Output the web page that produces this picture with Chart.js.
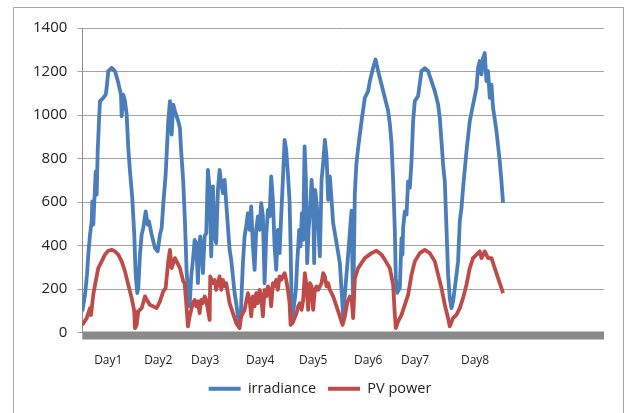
<!DOCTYPE html>
<html>
<head>
<meta charset="utf-8">
<script src="https://cdn.jsdelivr.net/npm/chart.js@4.4.0/dist/chart.umd.min.js"></script>
<style>
  html, body { margin: 0; padding: 0; background: #fff; }
  #wrap { position: relative; width: 626px; height: 413px; overflow: hidden; }
  #frame { position: absolute; left: 13px; top: 7px; width: 609px; height: 420px; border: 1px solid #a6a6a6; }
  #chart { position: absolute; left: 0; top: 0; }
</style>
</head>
<body>
<div id="wrap">
  <div id="frame"></div>
  <canvas id="chart" width="626" height="413"></canvas>
</div>
<script>
// sample positions along the time axis (0..522) and the readings at each one
const irradianceX = [0, 2.7, 4.7, 6, 7.7, 9.4, 10, 11, 13.4, 14.4, 15.4, 16.7, 17.7, 21, 23.4, 24.4, 26, 29.4, 32.7, 36,
  38.7, 39.4, 41, 42.7, 44.4, 46, 47.7, 50, 52, 53.4, 55, 56, 57.7, 59.4, 61, 63.4, 65.4, 66.7, 69.4, 72.7,
  75.4, 77.7, 79.4, 81, 83.4, 86, 87.7, 89.4, 91, 92.7, 96, 97.7, 98.7, 101, 102.7, 104.4, 106, 107.4, 109, 110.7,
  112.4, 114, 115.7, 116.7, 118, 119, 120.7, 122.4, 124, 125.7, 127.4, 129, 130.7, 132.4, 134, 135.7, 137.4, 139, 140.7, 142.4,
  144, 145.7, 147.4, 149, 150.7, 152.4, 154, 155.7, 157.2, 158.7, 159.7, 160.7, 162.4, 164, 165.7, 167.4, 169, 170.7, 172.4, 174,
  175.7, 177.4, 179, 180.7, 182.4, 184, 185.7, 187.4, 189, 190.7, 192.4, 194, 195.7, 197.4, 199, 200.7, 202.4, 204, 205.7, 207.4,
  208.4, 209.4, 210.4, 211.7, 213.7, 215, 217, 218.4, 219.7, 221, 222.4, 223.7, 225, 226.4, 227.7, 229.4, 231, 232, 233, 234.4,
  236, 237.7, 239.4, 241, 242.7, 244.4, 246, 247.7, 249.4, 251, 254.4, 257.7, 259.4, 261, 262.7, 266, 269.4, 271, 272.7, 274.2,
  276, 279.4, 282.7, 286, 287.7, 291, 293.4, 296, 299.4, 302.7, 306, 307.7, 309.4, 311, 312.7, 313.7, 315, 317.7, 319.4, 320.4,
  321, 322.7, 324.4, 326, 327.7, 329.4, 331, 332.7, 336, 339.4, 342.7, 346, 349.4, 352.7, 356, 357.7, 359.4, 361, 362.7, 364.4,
  366, 367.7, 369.4, 371, 372.7, 374.4, 376, 377.7, 379.4, 381, 384.4, 387.7, 391, 394.4, 396, 397.7, 399.4, 401, 402.7, 404.4,
  406, 407.7, 409.4, 411, 414.4, 417.7, 419.4, 421];
const irradiance = [97, 173, 266, 358, 450, 511, 603, 496, 741, 634, 834, 972, 1064, 1079, 1094, 1125, 1202, 1217, 1202, 1148,
  1094, 995, 1094, 1064, 1002, 849, 741, 619, 450, 266, 181, 204, 358, 450, 480, 557, 496, 511, 450, 388,
  373, 450, 480, 588, 726, 972, 1064, 910, 1048, 1018, 972, 940, 849, 695, 511, 280, 165, 120, 258, 334,
  426, 411, 227, 380, 442, 380, 273, 442, 457, 748, 656, 350, 672, 442, 411, 656, 748, 687, 641, 702,
  595, 488, 380, 334, 258, 181, 135, 74, 48, 100, 212, 319, 442, 488, 549, 472, 580, 396, 288, 472,
  534, 472, 595, 534, 227, 442, 564, 534, 718, 610, 396, 288, 472, 365, 534, 702, 886, 840, 733, 600,
  400, 150, 74, 120, 196, 319, 472, 396, 549, 426, 856, 702, 319, 472, 549, 702, 595, 319, 656, 595,
  503, 350, 702, 779, 886, 810, 610, 718, 610, 503, 411, 319, 196, 74, 173, 358, 560, 100, 640, 772,
  849, 972, 1079, 1110, 1156, 1217, 1255, 1202, 1140, 1079, 1020, 960, 870, 700, 470, 250, 182, 204, 434, 358,
  480, 557, 542, 695, 665, 787, 972, 1064, 1087, 1202, 1215, 1202, 1156, 1110, 1048, 987, 880, 772, 695, 480,
  266, 158, 112, 143, 204, 266, 327, 511, 573, 665, 834, 972, 1048, 1125, 1217, 1248, 1187, 1263, 1285, 1156,
  1202, 1079, 1140, 1033, 926, 787, 695, 596];

const pvPowerX = [0, 4.4, 7.7, 8.7, 11, 13.4, 16, 19.4, 22.7, 26, 29.4, 32.7, 36, 39.4, 42.7, 46, 49.4, 52, 52.7, 54.4,
  56, 59.4, 62.7, 65.4, 67.7, 71, 74.4, 77.7, 81, 83.4, 86, 87.7, 89.4, 92.7, 96, 97.7, 99.4, 101, 102.4, 104,
  105.7, 107.4, 109, 110.7, 112.4, 114, 115.7, 117.4, 119, 120.7, 122.4, 124, 125.7, 127.4, 128, 130.7, 132.4, 134, 135.7, 137.4,
  139, 140.7, 142.4, 144, 145.7, 147.4, 150.7, 154, 157.4, 159, 162.4, 165.7, 167.4, 169, 170.7, 172.4, 174, 175.7, 177.4, 179,
  180.7, 182.4, 184, 185.7, 187.4, 189, 190.7, 192.4, 194, 195.7, 197.4, 199, 200.7, 202.4, 204, 205.7, 207.4, 208.4, 210.4, 214.4,
  216, 217.7, 219.4, 221, 222.7, 224.4, 226, 227.7, 229.4, 231, 232.7, 234.4, 236, 237.7, 239.4, 241, 242.7, 244.4, 246, 247.7,
  251, 254.4, 257.7, 260.4, 262.7, 265, 267.7, 269.4, 271, 272.7, 276, 282.7, 289.4, 294.4, 299.4, 302.7, 307.7, 311, 312.7, 313.7,
  316, 319.4, 322.7, 326, 329.4, 332.7, 337.7, 342.7, 347.7, 352.7, 356, 359.4, 362.7, 366, 367.7, 371, 374.4, 377.7, 381, 384.4,
  387.7, 391, 394.4, 397.7, 399.4, 402.7, 406, 409.4, 412.7, 416, 419.4, 421];
const pvPower = [35, 66, 112, 80, 174, 235, 296, 327, 358, 376, 380, 373, 358, 327, 281, 220, 158, 97, 20, 35,
  97, 112, 166, 143, 127, 120, 112, 143, 189, 204, 327, 380, 296, 342, 312, 296, 265, 235, 227, 135,
  28, 74, 104, 135, 150, 120, 143, 89, 150, 135, 166, 150, 104, 58, 258, 227, 242, 196, 227, 258,
  196, 242, 212, 227, 181, 135, 89, 43, 20, 74, 104, 181, 150, 74, 166, 120, 181, 135, 196, 166,
  74, 196, 166, 212, 196, 120, 227, 212, 242, 196, 258, 242, 258, 273, 242, 196, 135, 35, 44, 89,
  120, 135, 104, 150, 273, 212, 104, 227, 212, 104, 196, 212, 196, 212, 227, 273, 258, 212, 227, 196,
  166, 120, 74, 35, 74, 135, 166, 158, 66, 250, 296, 342, 365, 376, 358, 335, 296, 220, 81, 20,
  51, 81, 127, 173, 266, 327, 365, 380, 365, 327, 266, 204, 127, 66, 28, 66, 81, 112, 158, 220,
  296, 342, 358, 373, 342, 373, 342, 342, 296, 250, 204, 181];

// day labels and where they sit on the time axis
const dayLabels = ['Day1', 'Day2', 'Day3', 'Day4', 'Day5', 'Day6', 'Day7', 'Day8'];
const dayTicks = [26, 76, 123, 178, 231, 286, 333, 393];

const toPoints = (xs, ys) => xs.map((x, i) => ({ x: x, y: ys[i] }));

// grey floor strip under the zero line
const floorBand = {
  id: 'floorBand',
  beforeDatasetsDraw(chart) {
    const { ctx, chartArea } = chart;
    ctx.save();
    ctx.fillStyle = '#8a8a8a';
    ctx.fillRect(chartArea.left, chartArea.bottom - 1, chartArea.right - chartArea.left, 8);
    ctx.restore();
  }
};

// legend sits centred under the whole frame rather than the padded box
const legendShift = {
  id: 'legendShift',
  afterLayout(chart) {
    chart.legend.left += 9;
    chart.legend.right += 9;
  }
};

const ctx = document.getElementById('chart').getContext('2d');
new Chart(ctx, {
  type: 'line',
  data: {
    datasets: [{
      label: 'irradiance',
      data: toPoints(irradianceX, irradiance),
      borderColor: '#4a7ebb',
      backgroundColor: '#4a7ebb',
      borderWidth: 3.8,
      pointRadius: 0,
      tension: 0,
      borderJoinStyle: 'round',
      order: 1,
    }, {
      label: 'PV power',
      data: toPoints(pvPowerX, pvPower),
      borderColor: '#be4b48',
      backgroundColor: '#be4b48',
      borderWidth: 3.8,
      pointRadius: 0,
      tension: 0,
      borderJoinStyle: 'round',
      order: 0,
    }],
  },
  options: {
    responsive: false,
    animation: false,
    devicePixelRatio: 1,
    events: [],
    layout: {
      padding: { left: 18, right: 22, top: 28, bottom: 7 },
    },
    scales: {
      x: {
        type: 'linear',
        min: 0,
        max: 522,
        grid: { display: false, drawTicks: false },
        border: { display: false },
        ticks: {
          autoSkip: false,
          maxRotation: 0,
          padding: 21,
          color: '#222',
          font: { family: 'Open Sans', size: 12 },
          callback: (value, index) => dayLabels[index],
        },
        afterBuildTicks: scale => {
          scale.ticks = dayTicks.map(v => ({ value: v }));
        },
        afterFit: scale => {
          scale.height = 37;
        },
      },
      y: {
        min: 0,
        max: 1400,
        ticks: {
          stepSize: 200,
          padding: 10,
          color: '#222',
          font: { family: 'Open Sans', size: 15 },
          callback: value => String(value),
        },
        grid: { color: '#a3a3a3', lineWidth: 1, tickLength: 5 },
        border: { color: '#8c8c8c', width: 1 },
        afterFit: scale => {
          scale.width = 64.3;
        },
      },
    },
    plugins: {
      legend: {
        display: true,
        position: 'bottom',
        labels: {
          usePointStyle: true,
          pointStyle: 'line',
          pointStyleWidth: 32,
          padding: 12,
          color: '#222',
          font: { family: 'Open Sans', size: 14.5 },
          sort: (a, b) => a.datasetIndex - b.datasetIndex,
        },
      },
      tooltip: { enabled: false },
    },
  },
  plugins: [floorBand, legendShift],
});
</script>
</body>
</html>
